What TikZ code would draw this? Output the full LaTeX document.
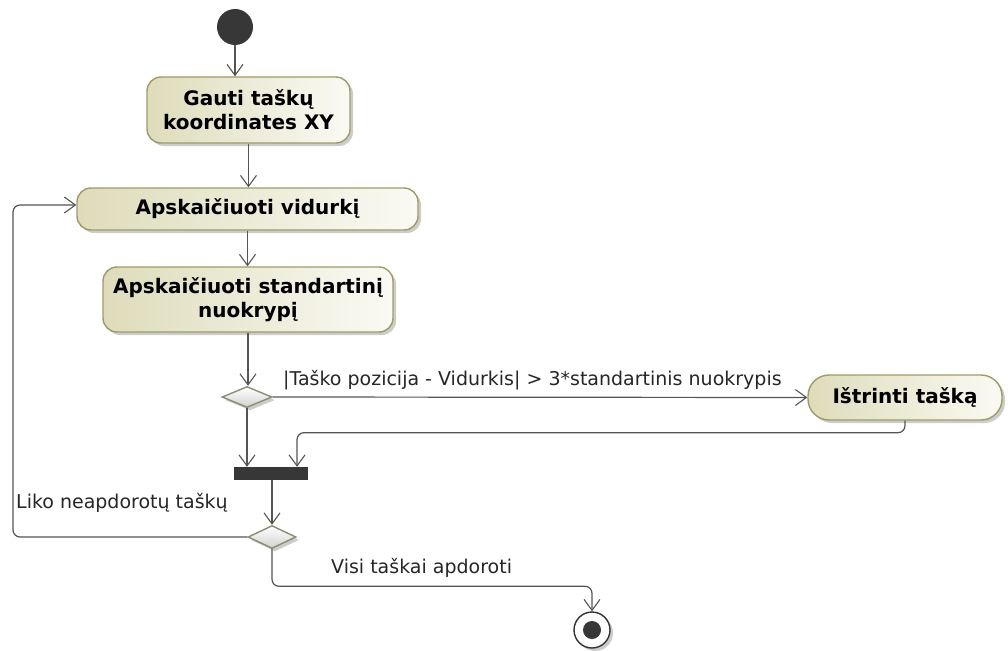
\documentclass[tikz,border=0pt]{standalone}
\usepackage{fontspec}
\setmainfont{DejaVu Sans}
\usetikzlibrary{arrows.meta,shadows,calc,shapes.geometric}
\definecolor{linec}{RGB}{85,85,85}
\definecolor{actborder}{RGB}{158,156,98}
\definecolor{actleft}{RGB}{222,220,186}
\definecolor{actright}{RGB}{250,250,244}
\definecolor{decborder}{RGB}{140,140,112}
\definecolor{darkfill}{RGB}{55,55,55}
\begin{document}
\begin{tikzpicture}[x=1pt,y=-1pt,
  flow/.style={draw=linec, line width=1.2pt, rounded corners=7pt,
    -{Straight Barb[length=11pt,width=16pt,line width=1.1pt]}},
  shade/.style={drop shadow={shadow xshift=3pt, shadow yshift=-3pt, fill=black!40, opacity=0.5}},
  act/.style={shape=rectangle, draw=actborder, line width=1.4pt, rounded corners=14pt,
    left color=actleft, right color=actright, shade,
    font=\bfseries\fontsize{20}{24}\selectfont, align=center, inner sep=0pt},
  decision/.style={shape=diamond, draw=decborder, line width=1.4pt, inner sep=0pt,
    top color=white, bottom color=black!18, shade,
    minimum width=50pt, minimum height=21pt},
  lbl/.style={font=\fontsize{19}{22}\selectfont, text=black!85, inner sep=0pt, anchor=west},
  startnode/.style={shape=circle, fill=darkfill, minimum size=36pt, inner sep=0pt},
  endnode/.style={shape=circle, draw=black!80, line width=1.4pt, fill=white, minimum size=36pt, inner sep=0pt, shade},
  endcore/.style={shape=circle, fill=darkfill, minimum size=18pt, inner sep=0pt},
  joinbar/.style={shape=rectangle, fill=darkfill, minimum width=74pt, minimum height=13pt, inner sep=0pt}
]
\useasboundingbox (0,0) rectangle (1008,650);

% nodes
\node[startnode] (init) at (235,27) {};
\node[act, minimum width=203pt, minimum height=66pt] (a1) at (248.5,110)
  {Gauti taškų\\koordinates XY};
\node[act, minimum width=341pt, minimum height=42pt] (a2) at (247.5,209)
  {Apskaičiuoti vidurkį};
\node[act, minimum width=290pt, minimum height=65pt] (a3) at (248,299.5)
  {Apskaičiuoti standartinį\\nuokrypį};
\node[decision] (d1) at (247,397) {};
\node[act, minimum width=194pt, minimum height=45pt, rounded corners=21pt] (del) at (905,397.5)
  {Ištrinti tašką};
\node[joinbar] (bar) at (271,473.5) {};
\node[decision, minimum width=48pt, minimum height=23pt] (d2) at (272,537) {};
\node[endnode] (final) at (592,630) {};
\node[endcore] (finalcore) at (final) {};

% guard labels
\node[lbl] (g1) at (283,380) {|Taško pozicija - Vidurkis| > 3*standartinis nuokrypis};
\node[lbl] (g2) at (16,503) {Liko neapdorotų taškų};
\node[lbl] (g3) at (331,568) {Visi taškai apdoroti};

% control flows
\draw[flow] (init.south) -- (init.south |- a1.north);
\draw[flow] (a1.south) -- (a1.south |- a2.north);
\draw[flow] (a2.south) -- (a2.south |- a3.north);
\draw[flow] (a3.south) -- (a3.south |- d1.north);
\draw[flow] (d1.east) -- (del.west);
\draw[flow] (d1.south) -- (d1.south |- bar.north);
\draw[flow] (del.south) -- ++(0,12) -| ($(bar.north)+(26,0)$);
\draw[flow] (bar.south -| d2.north) -- (d2.north);
\draw[flow] (d2.west) -| (13,270) |- ($(a2.west)+(0,-4)$);
\draw[flow] (d2.south) |- ($(final.north)+(0,-25)$) -- (final.north);
\end{tikzpicture}
\end{document}
